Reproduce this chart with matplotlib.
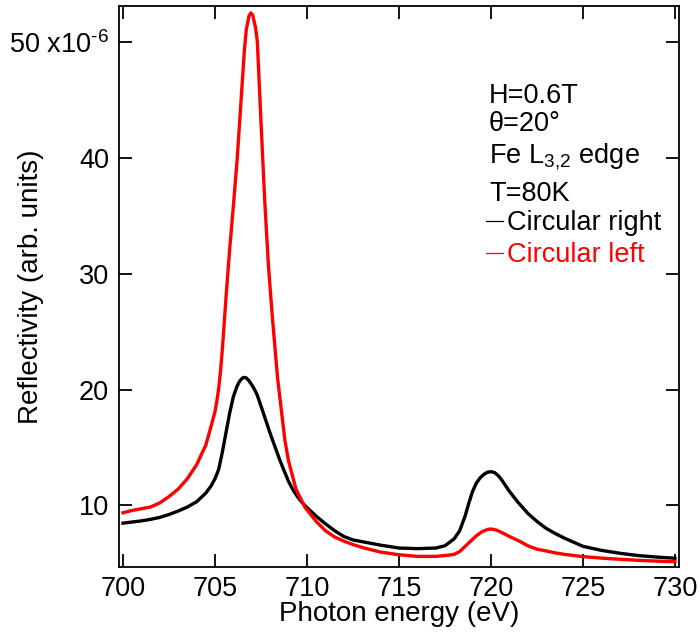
"""Fe L3,2 edge reflectivity for circular right / left polarisation."""
import matplotlib
matplotlib.use("Agg")
import matplotlib.pyplot as plt
from matplotlib.lines import Line2D

plt.rcParams["font.family"] = ["Liberation Sans", "DejaVu Sans"]
plt.rcParams["mathtext.fontset"] = "custom"
plt.rcParams["mathtext.rm"] = "Liberation Sans"
plt.rcParams["mathtext.it"] = "Liberation Sans:italic"
plt.rcParams["mathtext.default"] = "regular"

# photon energy (eV) / reflectivity (x1e-6)
e_right = [700.0, 700.5, 701.0, 701.5, 702.0, 702.5, 703.0, 703.5, 704.0, 704.5,
           704.8, 705.0, 705.2, 705.4, 705.6, 705.8, 706.0, 706.2, 706.35, 706.5,
           706.6, 706.7, 706.85, 707.0, 707.15, 707.3, 707.6, 708.0, 708.5, 708.75,
           709.0, 709.25, 709.5, 709.75, 710.0, 710.5, 711.0, 711.5, 712.0, 712.5,
           713.0, 714.0, 715.0, 716.0, 717.0, 717.5, 718.0, 718.3, 718.6, 718.8,
           719.0, 719.2, 719.4, 719.6, 719.8, 720.0, 720.2, 720.4, 720.6, 721.0,
           721.5, 722.0, 722.5, 723.0, 723.5, 724.0, 725.0, 726.0, 727.0, 728.0,
           729.0, 730.0]
r_right = [8.45, 8.55, 8.65, 8.78, 8.95, 9.2, 9.5, 9.85, 10.3, 11.05,
           11.7, 12.3, 13.1, 14.6, 16.3, 18.0, 19.4, 20.3, 20.75, 21.0,
           21.05, 21.0, 20.75, 20.4, 20.0, 19.5, 18.1, 16.2, 14.0, 13.0,
           12.05, 11.3, 10.7, 10.2, 9.8, 9.05, 8.4, 7.8, 7.3, 7.0,
           6.85, 6.55, 6.3, 6.25, 6.3, 6.5, 7.1, 7.8, 9.1, 10.2,
           11.2, 11.9, 12.35, 12.65, 12.85, 12.9, 12.82, 12.55, 12.15, 11.2,
           10.2, 9.3, 8.6, 8.0, 7.55, 7.15, 6.45, 6.1, 5.85, 5.65,
           5.52, 5.42]

e_left = [700.0, 700.5, 701.0, 701.5, 702.0, 702.5, 703.0, 703.5, 704.0, 704.5,
          704.8, 705.0, 705.1, 705.2, 705.3, 705.4, 705.6, 705.8, 706.0, 706.2,
          706.4, 706.6, 706.7, 706.85, 706.95, 707.05, 707.2, 707.3, 707.5, 707.7,
          707.9, 708.1, 708.4, 708.8, 709.0, 709.4, 709.9, 710.5, 711.0, 711.5,
          712.0, 712.5, 713.0, 714.0, 715.0, 716.0, 717.0, 717.5, 718.0, 718.3,
          718.6, 718.9, 719.2, 719.5, 719.8, 720.0, 720.3, 720.7, 721.0, 721.6,
          722.0, 722.5, 723.0, 723.5, 724.0, 725.0, 726.0, 727.0, 728.0, 729.0,
          730.0]
r_left = [9.35, 9.55, 9.7, 9.85, 10.2, 10.75, 11.4, 12.3, 13.5, 15.2,
          16.9, 18.1, 19.0, 20.1, 21.6, 23.5, 28.0, 32.2, 35.9, 39.8,
          44.6, 49.4, 51.1, 52.3, 52.55, 52.35, 51.3, 50.1, 43.1, 36.4,
          30.8, 26.6, 21.0, 15.6, 13.8, 11.4, 9.8, 8.6, 7.8, 7.25,
          6.9, 6.6, 6.35, 5.95, 5.72, 5.58, 5.58, 5.65, 5.75, 6.0,
          6.45, 6.9, 7.35, 7.7, 7.9, 7.95, 7.85, 7.55, 7.3, 6.85,
          6.5, 6.2, 6.05, 5.88, 5.75, 5.56, 5.43, 5.33, 5.24, 5.17,
          5.12]

xticks = [700, 705, 710, 715, 720, 725, 730]
yticks = [10, 20, 30, 40, 50]
ytick_labels = ["10", "20", "30", "40", r"50 x10$^{\text{-}6}$"]
notes = ["H=0.6T", "θ=20°", r"Fe L$_{3,\!2}$ edge", "T=80K"]
series_labels = ["Circular right", "Circular left"]
series_colors = ["black", "#ff0000"]

fig = plt.figure(figsize=(6.99, 6.37), dpi=100)
ax = fig.add_axes([0.1702, 0.1104, 0.8012, 0.8802])

ax.plot(e_right, r_right, color=series_colors[0], lw=2.4, solid_joinstyle="round")
ax.plot(e_left, r_left, color=series_colors[1], lw=2.4, solid_joinstyle="round")

ax.set_xlim(699.78, 730.22)
ax.set_ylim(4.69, 53.15)
ax.set_xticks(xticks)
ax.set_yticks(yticks)
ax.set_yticklabels(ytick_labels)
ax.tick_params(direction="in", length=9.5, width=1.3, top=True, right=True,
               labelsize=19.5, pad=7)
for s in ax.spines.values():
    s.set_linewidth(1.3)

ax.set_xlabel("Photon energy (eV)", fontsize=20, labelpad=-1)
ax.set_ylabel("Reflectivity (arb. units)", fontsize=20)
ax.yaxis.set_label_coords(-0.134, 0.5)

# annotation block, baselines as in the original
note_y = [0.8274, 0.7775, 0.7204, 0.6522]
for txt, y in zip(notes, note_y):
    ax.text(0.6607, y, txt, transform=ax.transAxes, fontsize=19.5, va="baseline")

handles = [Line2D([], [], color=c, lw=0.9) for c in series_colors]
ax.legend(handles, series_labels, labelcolor=series_colors, frameon=False,
          fontsize=19.5, loc="upper left", bbox_to_anchor=(0.656, 0.636),
          handlelength=0.63, handletextpad=0.15, labelspacing=0.22,
          borderpad=0, borderaxespad=0)

fig.savefig("out.png", dpi=100)
